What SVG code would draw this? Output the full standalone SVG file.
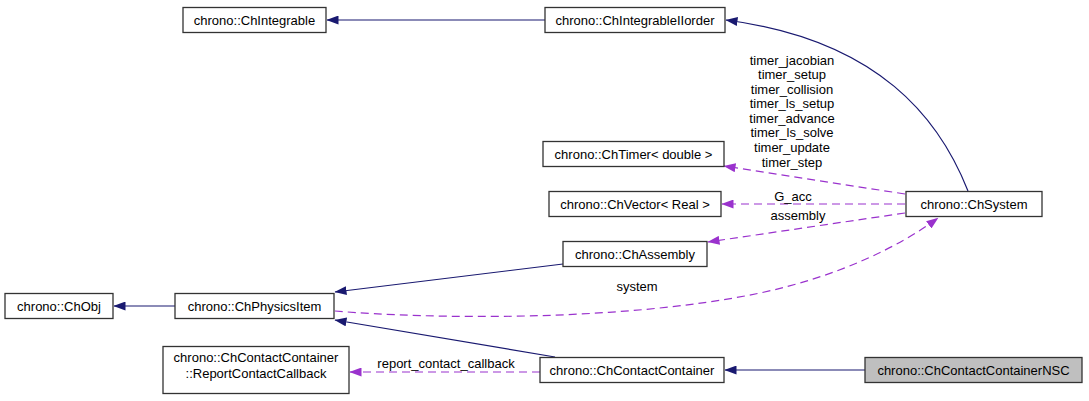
<svg xmlns="http://www.w3.org/2000/svg" width="1089" height="401" viewBox="0 0 1089 401">
<style>
  .box { fill: #ffffff; stroke: #333333; stroke-width: 1.3; }
  .cur { fill: #bfbfbf; stroke: #333333; stroke-width: 1.3; }
  text { font-family: "Liberation Sans", Arial, sans-serif; font-size: 13px; fill: #000000; text-anchor: middle; }
  .inh { fill: none; stroke: #191970; stroke-width: 1.2; marker-end: url(#navy); }
  .use { fill: none; stroke: #9a32cd; stroke-width: 1.2; stroke-dasharray: 8,5; marker-end: url(#purple); }
</style>
<defs>
  <marker id="navy" markerUnits="userSpaceOnUse" viewBox="0 0 12 9" markerWidth="12" markerHeight="9" refX="11.5" refY="4.5" orient="auto">
    <path d="M0,0 L12,4.5 L0,9 z" fill="#191970"/>
  </marker>
  <marker id="purple" markerUnits="userSpaceOnUse" viewBox="0 0 12 9" markerWidth="12" markerHeight="9" refX="11.5" refY="4.5" orient="auto">
    <path d="M0,0 L12,4.5 L0,9 z" fill="#9a32cd"/>
  </marker>
</defs>

<g id="edges">
  <path class="inh" d="M545,20 L327,20"/>
  <path class="inh" d="M968,191 C940,120 880,40 726,20"/>
  <path class="use" d="M905,194 L724,166"/>
  <path class="use" d="M905,204 L722,204"/>
  <path class="use" d="M905,213 L708,242"/>
  <path class="use" d="M335,311 C430,319 620,322 760,293 C840,276 900,246 938,218"/>
  <path class="inh" d="M563,264 L335,292"/>
  <path class="inh" d="M555,357 L335,320"/>
  <path class="inh" d="M175,306 L114,306"/>
  <path class="use" d="M540,372 L350,372"/>
  <path class="inh" d="M865,370 L725,370"/>
  <g id="edge-labels">
    <text x="792" y="64.5">timer_jacobian</text>
    <text x="792" y="79">timer_setup</text>
    <text x="792" y="93.6">timer_collision</text>
    <text x="792" y="108.2">timer_ls_setup</text>
    <text x="792" y="122.8">timer_advance</text>
    <text x="792" y="137.4">timer_ls_solve</text>
    <text x="792" y="152">timer_update</text>
    <text x="792" y="166.5">timer_step</text>
    <text x="793" y="200.5">G_acc</text>
    <text x="798" y="219.5">assembly</text>
    <text x="637" y="290.5">system</text>
    <text x="446" y="368">report_contact_callback</text>
  </g>
</g>

<g id="ChIntegrable">
  <rect class="box" x="183" y="7.5" width="143" height="25"/>
  <text x="254.5" y="24.5">chrono::ChIntegrable</text>
</g>
<g id="ChIntegrableIIorder">
  <rect class="box" x="545" y="7.5" width="180" height="25"/>
  <text x="635" y="24.5">chrono::ChIntegrableIIorder</text>
</g>
<g id="ChTimer">
  <rect class="box" x="543" y="141.5" width="181" height="25"/>
  <text x="633.5" y="158.5">chrono::ChTimer&lt; double &gt;</text>
</g>
<g id="ChVector">
  <rect class="box" x="549" y="191.5" width="172" height="25"/>
  <text x="635" y="208.5">chrono::ChVector&lt; Real &gt;</text>
</g>
<g id="ChSystem">
  <rect class="box" x="906" y="191.5" width="136" height="25"/>
  <text x="974" y="208.5">chrono::ChSystem</text>
</g>
<g id="ChAssembly">
  <rect class="box" x="563" y="241.5" width="144" height="25"/>
  <text x="635" y="258.5">chrono::ChAssembly</text>
</g>
<g id="ChObj">
  <rect class="box" x="5" y="293.5" width="108" height="25"/>
  <text x="59" y="310.5">chrono::ChObj</text>
</g>
<g id="ChPhysicsItem">
  <rect class="box" x="175" y="293.5" width="159" height="25"/>
  <text x="254.5" y="310.5">chrono::ChPhysicsItem</text>
</g>
<g id="ReportContactCallback">
  <rect class="box" x="163" y="346.5" width="186" height="47"/>
  <text x="256" y="362">chrono::ChContactContainer</text>
  <text x="256" y="377.5">::ReportContactCallback</text>
</g>
<g id="ChContactContainer">
  <rect class="box" x="540" y="357.5" width="184" height="25"/>
  <text x="632" y="374.5">chrono::ChContactContainer</text>
</g>
<g id="ChContactContainerNSC">
  <rect class="cur" x="865" y="357.5" width="217" height="25"/>
  <text x="973.5" y="374.5">chrono::ChContactContainerNSC</text>
</g>
</svg>
